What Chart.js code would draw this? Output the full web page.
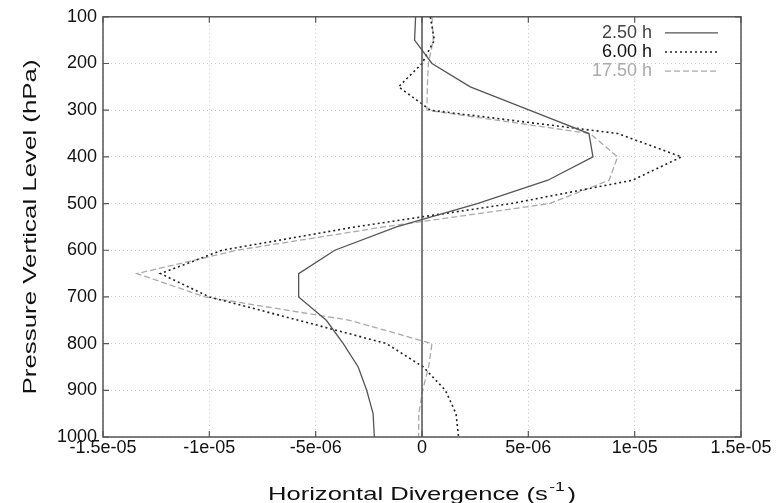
<!DOCTYPE html>
<html>
<head>
<meta charset="utf-8">
<script src="https://cdn.jsdelivr.net/npm/chart.js@4.4.0/dist/chart.umd.min.js"></script>
<style>
  html, body { margin: 0; padding: 0; background: #fff; }
  #wrap { width: 778px; height: 503px; }
</style>
</head>
<body>
<div id="wrap"><canvas id="divChart" width="778" height="503"></canvas></div>
<script>
// pressure levels (hPa)
const levels = [100, 150, 200, 250, 300, 350, 400, 450, 500, 550, 600, 650, 700, 750, 800, 850, 900, 950, 1000];

// divergence, in units of 1e-06 s^-1
const div250 = [-0.3, -0.35, 0.47, 2.27, 5.05, 7.85, 8.04, 5.92, 2.6, -1.2, -4.1, -5.8, -5.8, -4.5, -3.7, -3.0, -2.6, -2.3, -2.24];
const div600 = [0.39, 0.58, 0.0, -1.1, 0.4, 9.2, 12.2, 9.9, 4.2, -3.15, -9.4, -12.3, -10.0, -5.8, -1.67, 0.06, 1.1, 1.6, 1.72];
const div1750 = [0.47, 0.53, 0.3, 0.25, 0.23, 7.9, 9.2, 8.8, 6.0, -1.8, -8.7, -13.4, -10.2, -3.4, 0.47, 0.31, 0.03, -0.15, -0.16];

const seriesNames = ['2.50 h', '6.00 h', '17.50 h'];
const xTicks = [-1.5e-05, -1e-05, -5e-06, 0, 5e-06, 1e-05, 1.5e-05];
const xTickLabels = ['-1.5e-05', '-1e-05', '-5e-06', '0', '5e-06', '1e-05', '1.5e-05'];
const yTicks = [100, 200, 300, 400, 500, 600, 700, 800, 900, 1000];

const FONT = "'Liberation Sans', Arial, sans-serif";

function toPoints(vals) {
    return vals.map((v, i) => ({ x: v * 1e-6, y: levels[i] }));
}

// draw text stretched to a given width (gnuplot's titles are wide)
function wideText(ctx, parts, cx, cy, targetW) {
    let total = 0;
    parts.forEach(p => { ctx.font = p.size + 'px ' + FONT; p.w = ctx.measureText(p.t).width; total += p.w + (p.gap || 0); });
    const sx = targetW / total;
    ctx.save();
    ctx.translate(cx, cy);
    ctx.scale(sx, 1);
    let x = -total / 2;
    parts.forEach(p => {
        ctx.font = p.size + 'px ' + FONT;
        x += (p.gap || 0);
        ctx.fillText(p.t, x, p.dy || 0);
        x += p.w;
    });
    ctx.restore();
}

// frame, zero axis, inward ticks, legend and axis titles (gnuplot look)
const gnuplotFrame = {
    id: 'gnuplotFrame',
    afterDatasetsDraw(chart) {
        const ctx = chart.ctx;
        const a = chart.chartArea;
        const xs = chart.scales.x, ys = chart.scales.y;
        ctx.save();

        // zero axis
        const x0 = xs.getPixelForValue(0);
        ctx.strokeStyle = '#555';
        ctx.lineWidth = 1.5;
        ctx.beginPath();
        ctx.moveTo(x0, a.top);
        ctx.lineTo(x0, a.bottom);
        ctx.stroke();

        // border
        ctx.strokeStyle = '#555';
        ctx.lineWidth = 1.5;
        ctx.strokeRect(a.left, a.top, a.right - a.left, a.bottom - a.top);

        // inward tick marks on all sides
        ctx.lineWidth = 1.2;
        ctx.beginPath();
        xTicks.forEach(t => {
            const px = xs.getPixelForValue(t);
            ctx.moveTo(px, a.bottom); ctx.lineTo(px, a.bottom - 6);
            ctx.moveTo(px, a.top); ctx.lineTo(px, a.top + 6);
        });
        yTicks.forEach(t => {
            const py = ys.getPixelForValue(t);
            ctx.moveTo(a.left, py); ctx.lineTo(a.left + 6, py);
            ctx.moveTo(a.right, py); ctx.lineTo(a.right - 6, py);
        });
        ctx.stroke();

        // legend, top right inside the plot
        ctx.font = '18px ' + FONT;
        ctx.textAlign = 'right';
        ctx.textBaseline = 'middle';
        chart.data.datasets.forEach((ds, i) => {
            const yy = a.top + 16 + i * 19.2;
            ctx.fillStyle = ds.legendText;
            ctx.fillText(ds.label, 652, yy);
            ctx.strokeStyle = ds.borderColor;
            ctx.lineWidth = ds.borderWidth;
            ctx.setLineDash(ds.borderDash || []);
            ctx.beginPath();
            ctx.moveTo(665, yy);
            ctx.lineTo(718, yy);
            ctx.stroke();
        });
        ctx.setLineDash([]);

        // x title with superscript
        ctx.fillStyle = '#111';
        ctx.textAlign = 'left';
        ctx.textBaseline = 'alphabetic';
        wideText(ctx, [
            { t: 'Horizontal Divergence (s', size: 19 },
            { t: '-1', size: 13, dy: -9, gap: 1 },
            { t: ')', size: 19, gap: 2 }
        ], (a.left + a.right) / 2, 500, 308);

        // y title
        ctx.save();
        ctx.translate(31, (a.top + a.bottom) / 2);
        ctx.rotate(-Math.PI / 2);
        ctx.textBaseline = 'middle';
        wideText(ctx, [{ t: 'Pressure Vertical Level (hPa)', size: 19 }], 0, 0, 335);
        ctx.restore();

        ctx.restore();
    }
};

const ctx = document.getElementById('divChart').getContext('2d');
new Chart(ctx, {
    type: 'scatter',
    data: {
        datasets: [
            {
                label: seriesNames[0],
                data: toPoints(div250),
                showLine: true,
                borderColor: '#555555',
                legendText: '#444444',
                borderWidth: 1.3,
                pointRadius: 0
            },
            {
                label: seriesNames[1],
                data: toPoints(div600),
                showLine: true,
                borderColor: '#222222',
                legendText: '#111111',
                borderWidth: 1.6,
                borderDash: [2, 3],
                pointRadius: 0
            },
            {
                label: seriesNames[2],
                data: toPoints(div1750),
                showLine: true,
                borderColor: '#aaaaaa',
                legendText: '#aaaaaa',
                borderWidth: 1.3,
                borderDash: [6, 3],
                pointRadius: 0
            }
        ]
    },
    options: {
        responsive: false,
        animation: false,
        layout: { padding: { top: 14, right: 37, left: 0, bottom: 0 } },
        plugins: {
            legend: { display: false },
            tooltip: { enabled: false }
        },
        scales: {
            x: {
                type: 'linear',
                min: -1.5e-05,
                max: 1.5e-05,
                afterBuildTicks: s => { s.ticks = xTicks.map(v => ({ value: v })); },
                afterFit: s => { s.height = 66; },
                ticks: {
                    padding: 0,
                    color: '#111',
                    font: { family: FONT, size: 18 },
                    maxRotation: 0,
                    autoSkip: false,
                    callback: (v) => {
                        const i = xTicks.findIndex(t => Math.abs(t - v) < 1e-9);
                        return i >= 0 ? xTickLabels[i] : '';
                    }
                },
                grid: { color: '#c8c8c8', lineWidth: 1, drawTicks: false },
                border: { display: false, dash: [1, 3] }
            },
            y: {
                type: 'linear',
                reverse: true,
                min: 100,
                max: 1000,
                afterBuildTicks: s => { s.ticks = yTicks.map(v => ({ value: v })); },
                afterFit: s => { s.width = 103; },
                ticks: {
                    padding: 6,
                    color: '#111',
                    font: { family: FONT, size: 18 },
                    autoSkip: false,
                    callback: (v) => String(v)
                },
                grid: { color: '#c8c8c8', lineWidth: 1, drawTicks: false },
                border: { display: false, dash: [1, 3] }
            }
        }
    },
    plugins: [gnuplotFrame]
});
</script>
</body>
</html>
